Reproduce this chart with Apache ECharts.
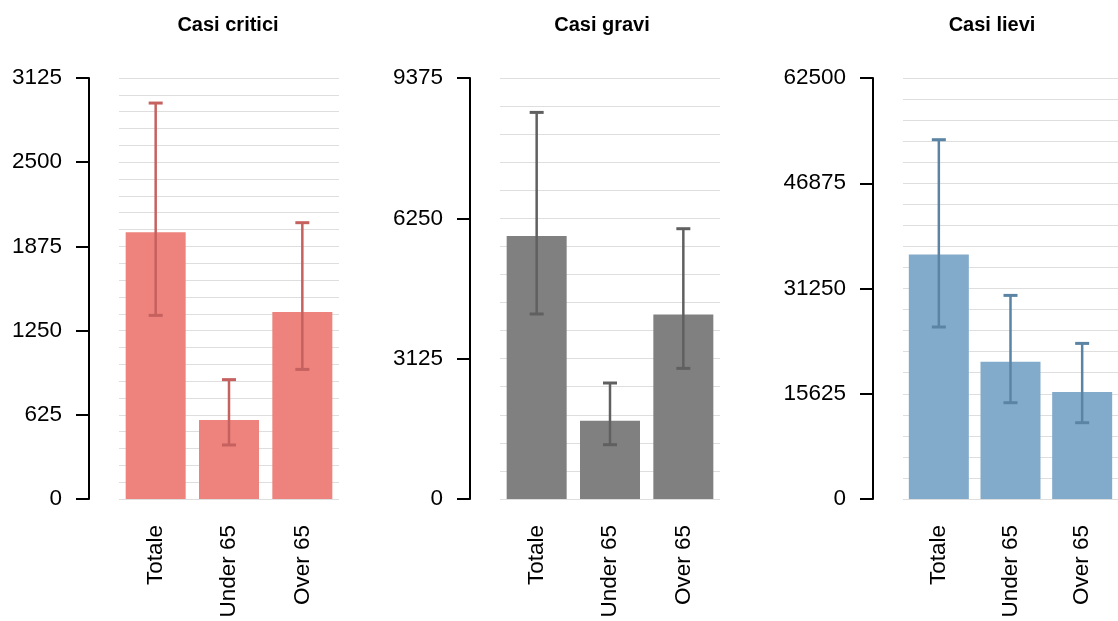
<!DOCTYPE html>
<html>
<head>
<meta charset="utf-8">
<script src="https://cdn.jsdelivr.net/npm/echarts@6/dist/echarts.min.js"></script>
<style>
html,body{margin:0;padding:0;background:#fff;}
#chart{width:1118px;height:621px;}
</style>
</head>
<body>
<div id="chart"></div>
<script>
// ---- data ----
const categories = ['Totale', 'Under 65', 'Over 65'];
const panelTitles = ['Casi critici', 'Casi gravi', 'Casi lievi'];

const critValues = [1980, 586, 1388];
const critLow    = [1363, 401, 962];
const critHigh   = [2939, 886, 2051];

const graviValues = [5857, 1744, 4111];
const graviLow    = [4120, 1209, 2909];
const graviHigh   = [8609, 2583, 6019];

const lieviValues = [36313, 20383, 15884];
const lieviLow    = [25534, 14296, 11327];
const lieviHigh   = [53340, 30226, 23100];

const yMax      = [3125, 9375, 62500];
const yInterval = [625, 3125, 15625];

// ---- style ----
const FONT = '"Liberation Sans", Arial, Helvetica, sans-serif';
const barColors = ['#EE827C', '#808080', '#82AACA'];
const errColors = ['#C5615F', '#606060', '#5B84A4'];
const gridLefts = [119, 500, 903];
const titleX = [228, 602, 992];

const panels = [
  {values: critValues, low: critLow, high: critHigh},
  {values: graviValues, low: graviLow, high: graviHigh},
  {values: lieviValues, low: lieviLow, high: lieviHigh}
];

const grids = [], xAxes = [], yAxes = [], series = [], graphics = [];

panels.forEach((p, i) => {
  grids.push({left: gridLefts[i], top: 78, width: 220, height: 421, containLabel: false});
  xAxes.push({
    type: 'category', gridIndex: i, data: categories,
    axisLine: {show: false}, axisTick: {show: false},
    axisLabel: {rotate: 90, margin: 26, fontSize: 22.5, color: '#000', fontFamily: FONT}
  });
  yAxes.push({
    type: 'value', gridIndex: i, min: 0, max: yMax[i], interval: yInterval[i],
    offset: 30,
    axisLine: {show: true, lineStyle: {color: '#000', width: 2}},
    axisTick: {show: true, length: 13, lineStyle: {color: '#000', width: 2}},
    minorTick: {show: false, splitNumber: 5},
    splitLine: {show: true, lineStyle: {color: '#dedede', width: 1}},
    minorSplitLine: {show: true, lineStyle: {color: '#dedede', width: 1}},
    axisLabel: {margin: 27, fontSize: 22.5, color: '#000', fontFamily: FONT,
      formatter: function (v) { return String(v); }}
  });
  series.push({
    type: 'bar', xAxisIndex: i, yAxisIndex: i,
    data: p.values, barWidth: 60,
    itemStyle: {color: barColors[i]},
    silent: true, z: 2
  });
  const errData = categories.map((c, k) => [k, p.low[k], p.high[k]]);
  series.push({
    type: 'custom', xAxisIndex: i, yAxisIndex: i,
    data: errData, z: 5, silent: true,
    renderItem: function (params, api) {
      const x = api.value(0);
      const lo = api.coord([x, api.value(1)]);
      const hi = api.coord([x, api.value(2)]);
      const half = 7;
      const style = {stroke: errColors[i], lineWidth: 3};
      return {
        type: 'group',
        children: [
          {type: 'line', shape: {x1: lo[0], y1: lo[1], x2: hi[0], y2: hi[1]}, style: {stroke: errColors[i], lineWidth: 2.5}},
          {type: 'line', shape: {x1: hi[0] - half, y1: hi[1], x2: hi[0] + half, y2: hi[1]}, style: style},
          {type: 'line', shape: {x1: lo[0] - half, y1: lo[1], x2: lo[0] + half, y2: lo[1]}, style: style}
        ]
      };
    }
  });
  graphics.push({
    type: 'text', x: titleX[i], y: 25,
    style: {text: panelTitles[i], fill: '#000', font: 'bold 20px ' + FONT, textAlign: 'center', textVerticalAlign: 'middle'}
  });
});

const chart = echarts.init(document.getElementById('chart'), null, {renderer: 'canvas'});
chart.setOption({
  animation: false,
  backgroundColor: '#fff',
  grid: grids, xAxis: xAxes, yAxis: yAxes, series: series, graphic: graphics
});
</script>
</body>
</html>
